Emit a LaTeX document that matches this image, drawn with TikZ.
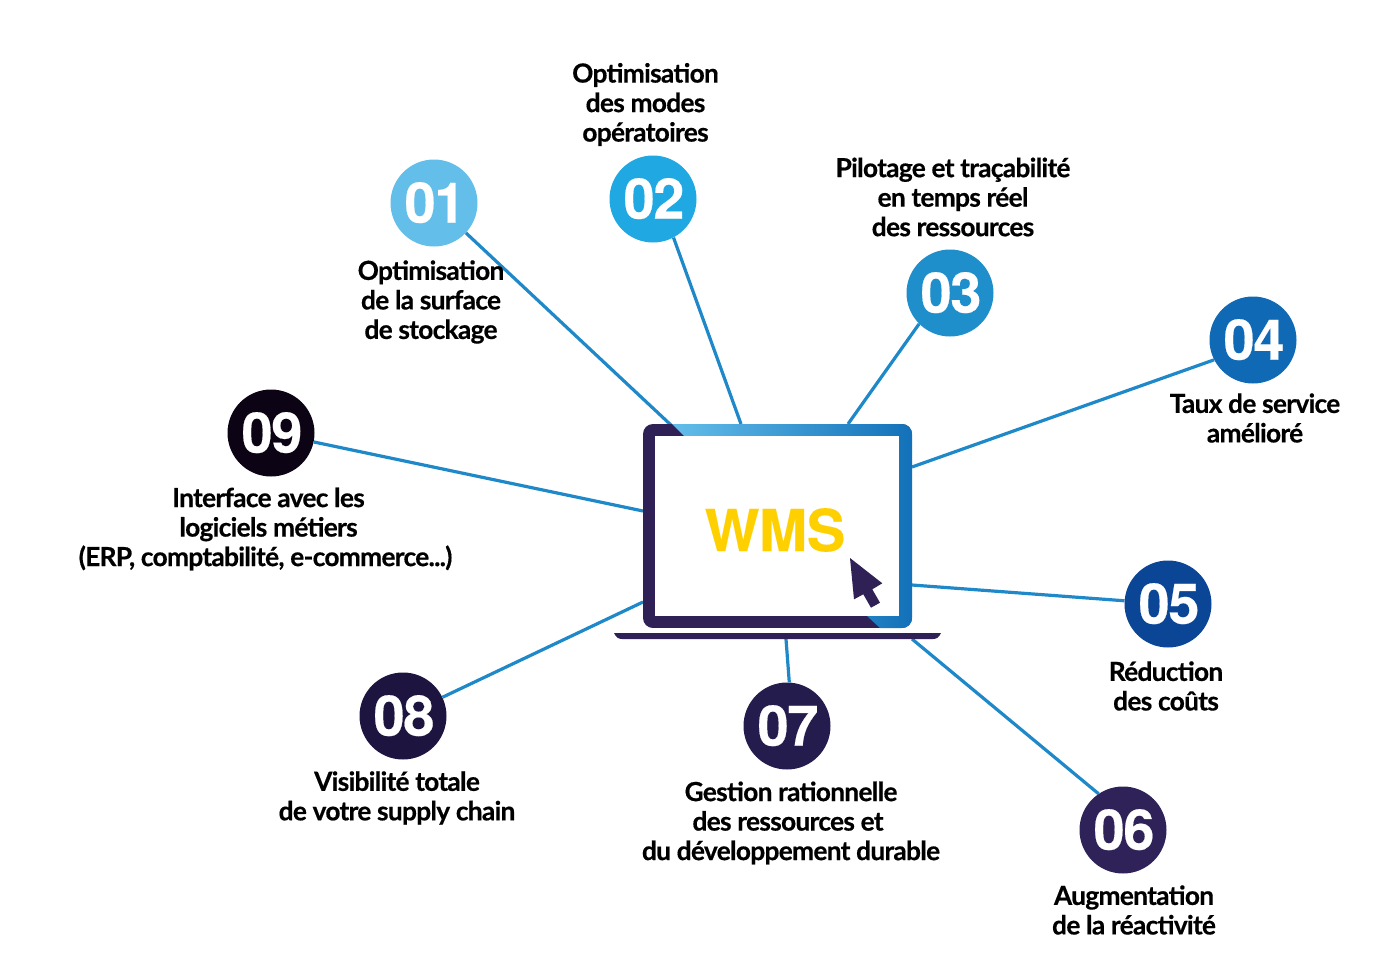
\documentclass[tikz,border=0pt]{standalone}
\usepackage{fontspec}
\setmainfont{Lato}
\newfontfamily\numfont{TeX Gyre Heros}[LetterSpace=-2.5,BoldFeatures={FakeBold=0.3}]
\newfontfamily\lblfont{Lato}[LetterSpace=-2.7,BoldFeatures={FakeBold=0.5}]
\newfontfamily\wmsfont{TeX Gyre Heros}[LetterSpace=-1,BoldFeatures={FakeBold=0.2}]
\newcommand\numtxt[1]{\raisebox{1.2pt}{\kern2pt #1}}
\definecolor{lnk}{HTML}{1E88C9}
\definecolor{dark}{HTML}{2F2055}
\definecolor{wmsc}{HTML}{FFD000}
\definecolor{ca}{HTML}{63BEEA}
\definecolor{cb}{HTML}{1FA8E2}
\definecolor{cc}{HTML}{1F8FCC}
\definecolor{cd}{HTML}{0F69B4}
\definecolor{ce}{HTML}{0A4596}
\definecolor{cf}{HTML}{2E2258}
\definecolor{cg}{HTML}{251C4E}
\definecolor{ch}{HTML}{1E1440}
\definecolor{ci}{HTML}{0C0414}
\tikzset{
 x=1pt,y=-1pt,
 num/.style={circle,minimum size=87pt,inner sep=0pt,text=white,font=\numfont\fontsize{56}{56}\selectfont\bfseries},
 lbl/.style={align=center,inner sep=0pt,text=black,font=\lblfont\fontsize{26.3}{29.5}\selectfont\bfseries},
 link/.style={draw=lnk,line width=3.2pt}
}
\begin{document}
\begin{tikzpicture}
\useasboundingbox (0,0) rectangle (1393,956);
\node[num,fill=ca] (c1) at (434,203) {\numtxt{01}};
\node[num,fill=cb] (c2) at (653,199) {\numtxt{02}};
\node[num,fill=cc] (c3) at (950,293) {\numtxt{03}};
\node[num,fill=cd] (c4) at (1253,340) {\numtxt{04}};
\node[num,fill=ce] (c5) at (1168,604) {\numtxt{05}};
\node[num,fill=cf] (c6) at (1123,830) {\numtxt{06}};
\node[num,fill=cg] (c7) at (787,726) {\numtxt{07}};
\node[num,fill=ch] (c8) at (403,716) {\numtxt{08}};
\node[num,fill=ci] (c9) at (271,433) {\numtxt{09}};
\coordinate (p1) at (672,426);
\coordinate (p2) at (741,424);
\coordinate (p3) at (848,424);
\coordinate (p4) at (912,467);
\coordinate (p5) at (912,585);
\coordinate (p6) at (912,639);
\coordinate (p7) at (786,639);
\coordinate (p8) at (643,602);
\coordinate (p9) at (643,511);
\draw[link] (c1) -- (p1);
\draw[link] (c2.-62) -- (p2);
\draw[link] (c3.-135) -- (p3);
\draw[link] (c4.207) -- (p4);
\draw[link] (c5) -- (p5);
\draw[link] (c6.124) -- (p6);
\draw[link] (c7.87) -- (p7);
\draw[link] (c8) -- (p8);
\draw[link] (c9) -- (p9);
% laptop
\fill[dark] (614,633) -- (941,633) .. controls (939,637) and (937,639) .. (933,639) -- (622,639) .. controls (618,639) and (616,637) .. (614,633) -- cycle;
\begin{scope}
\clip[rounded corners=10pt] (643,424) rectangle (912,628);
\fill[dark] (643,424) rectangle (912,628);
\shade[left color=ca,right color=cd!80!cc,shading angle=90] (672,424) -- (912,424) -- (912,628) -- (880,628) -- (867,616) -- (899,616) -- (899,436) -- (684,436) -- cycle;
\end{scope}
\fill[white] (655,436) rectangle (899,616);
\node[inner sep=0pt,text=wmsc,font=\wmsfont\fontsize{58}{58}\selectfont\bfseries] (wms) at (775,530) {WMS};
\fill[dark] (850,558) -- (882.3,583.3) -- (872.3,589.3) -- (880,602.7) -- (871,607.7) -- (863.3,594.3) -- (854,599.3) -- cycle;
% labels
\node[lbl] (t1) at (431,302) {Optimisation\\de la surface\\de stockage};
\node[lbl] (t2) at (645.5,104.5) {Optimisation\\des modes\\opératoires};
\node[lbl] (t3) at (953,197) {Pilotage et traçabilité\\en temps réel\\des ressources};
\node[lbl] (t4) at (1255,418) {Taux de service\\amélioré};
\node[lbl] (t5) at (1166,686) {Réduction\\des coûts};
\node[lbl] (t6) at (1134,910) {Augmentation\\de la réactivité};
\node[lbl] (t7) at (791,823) {Gestion rationnelle\\\kern-6pt des ressources et\\du développement durable};
\node[lbl] (t8) at (397,798) {Visibilité totale\\de votre supply chain};
\node[lbl] (t9) at (265.5,529) {\kern6pt Interface avec les\\\kern6pt logiciels métiers\\(ERP, comptabilité, e-commerce...)};
\end{tikzpicture}
\end{document}
